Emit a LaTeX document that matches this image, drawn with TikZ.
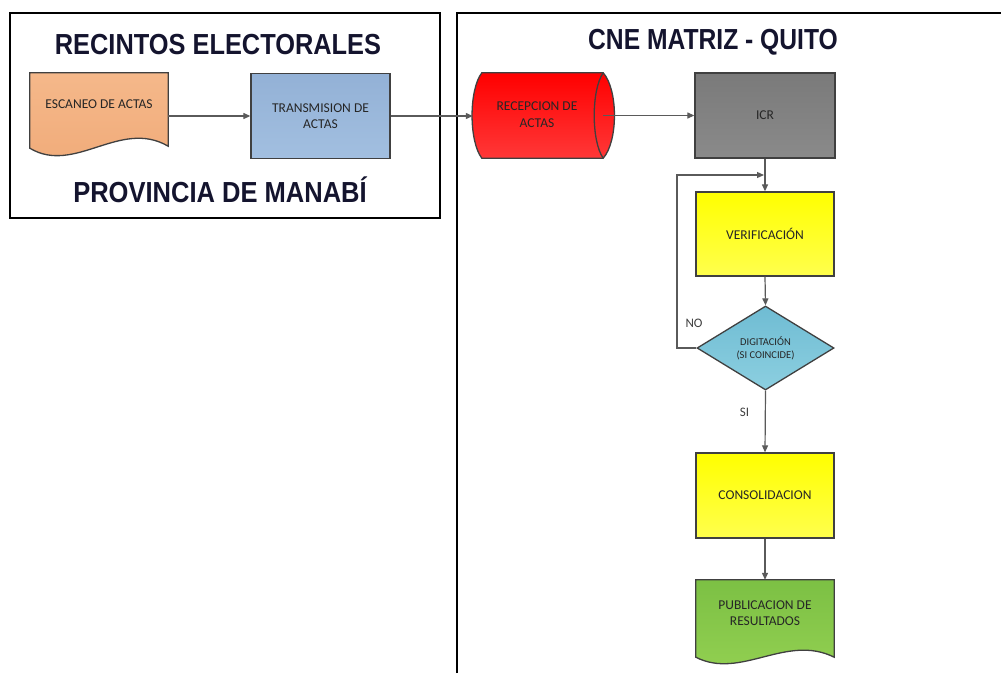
\documentclass[tikz,border=0pt]{standalone}
\usepackage{fontspec}
\setmainfont{Carlito}
\newfontfamily\titlefont{Liberation Sans}
\usetikzlibrary{shapes.geometric,arrows.meta}
\definecolor{titleclr}{HTML}{14142E}
\definecolor{txtclr}{HTML}{262626}
\definecolor{lblclr}{HTML}{404040}
\definecolor{edgeclr}{HTML}{404040}
\definecolor{lineclr}{HTML}{5A5A5A}
\definecolor{escT}{HTML}{F5B88A}
\definecolor{escB}{HTML}{F0AA78}
\definecolor{bluT}{HTML}{93B1D6}
\definecolor{bluB}{HTML}{A2BFE0}
\definecolor{redT}{HTML}{FF0000}
\definecolor{redB}{HTML}{FF3838}
\definecolor{gryT}{HTML}{7A7A7A}
\definecolor{gryB}{HTML}{8A8A8A}
\definecolor{yelT}{HTML}{FFFF00}
\definecolor{yelB}{HTML}{FFFF4D}
\definecolor{diaT}{HTML}{6FBCD3}
\definecolor{diaB}{HTML}{8CCFE0}
\definecolor{grnT}{HTML}{7CC044}
\definecolor{grnB}{HTML}{94D152}
\begin{document}
\begin{tikzpicture}[x=1pt,y=-1pt,
  frame/.style={draw=black,line width=2pt},
  title/.style={font=\titlefont\bfseries\fontsize{29}{33}\selectfont,text=titleclr,inner sep=0pt,anchor=base},
  boxtxt/.style={font=\fontsize{13.5}{16.5}\selectfont,text=txtclr,align=center,inner sep=0pt},
  proc/.style={boxtxt,draw=edgeclr,line width=1.3pt,minimum width=139pt,minimum height=85pt},
  holder/.style={inner sep=0pt,minimum width=138pt,minimum height=85pt},
  shape edge/.style={draw=edgeclr,line width=1.3pt},
  conn/.style={draw=lineclr,line width=1.2pt,-{Triangle[length=7pt,width=6pt]}},
  lbl/.style={font=\fontsize{13}{15}\selectfont,text=lblclr,inner sep=0pt}
]
\useasboundingbox (0,0) rectangle (1001,673);
\fill[white] (0,0) rectangle (1001,673);

% frames
\draw[frame] (10,13) rectangle (440,218);
\draw[frame] (457,673) -- (457,13) -- (1001,13);

% titles
\node[title] (t1) at (218,54) {\scalebox{0.875}[1]{RECINTOS ELECTORALES}};
\node[title] (t2) at (220,202) {\scalebox{0.88}[1]{PROVINCIA DE MANABÍ}};
\node[title] (t3) at (713,49) {\scalebox{0.85}[1]{CNE MATRIZ - QUITO}};

% Escaneo (document)
\node[holder] (esc) at (99,115.5) {};
\path[shape edge, top color=escT, bottom color=escB]
  (esc.north west) -- (esc.north east) -- ([yshift=12pt]esc.south east)
  .. controls ([xshift=-48pt,yshift=40pt]esc.south east) and ([xshift=45pt,yshift=-17pt]esc.south west) ..
  ([yshift=10pt]esc.south west) -- cycle;
\node[boxtxt] (esct) at (99,104) {ESCANEO DE ACTAS};

% Transmision
\node[proc, top color=bluT, bottom color=bluB] (trans) at (320.5,116) {TRANSMISION DE\\ACTAS};

% Recepcion (cylinder)
\node[holder, minimum width=141pt] (rec) at (543.5,115.5) {};
\path[shape edge, top color=redT, bottom color=redB]
  ([xshift=9pt]rec.north west) -- ([xshift=-11pt]rec.north east)
  .. controls ([xshift=4pt,yshift=-17pt]rec.north east) and ([xshift=4pt,yshift=17pt]rec.south east) ..
  ([xshift=-11pt]rec.south east) -- ([xshift=9pt]rec.south west)
  .. controls ([xshift=-4pt,yshift=17pt]rec.south west) and ([xshift=-4pt,yshift=-17pt]rec.north west) ..
  ([xshift=9pt]rec.north west) -- cycle;
\draw[shape edge] ([xshift=-11pt]rec.north east)
  .. controls ([xshift=-23pt,yshift=-17pt]rec.north east) and ([xshift=-23pt,yshift=17pt]rec.south east) ..
  ([xshift=-11pt]rec.south east);
\node[boxtxt] (rect) at (537,114.5) {RECEPCION DE\\ACTAS};

% ICR
\node[proc, minimum width=140pt, top color=gryT, bottom color=gryB] (icr) at (765,115.5) {ICR};

% Verificacion
\node[proc, minimum width=138pt, minimum height=84pt, top color=yelT, bottom color=yelB] (ver) at (765,234) {VERIFICACIÓN};

% Digitacion (decision)
\node[diamond, draw=edgeclr, line width=1.3pt, top color=diaT, bottom color=diaB,
  minimum width=137pt, minimum height=84pt, inner sep=0pt, aspect=1.63,
  font=\fontsize{10.5}{13}\selectfont, text=txtclr, align=center] (dia) at (765.5,348) {DIGITACIÓN\\(SI COINCIDE)};

% Consolidacion
\node[proc, minimum width=138pt, top color=yelT, bottom color=yelB] (cons) at (765,495.5) {CONSOLIDACION};

% Publicacion (document)
\node[holder] (pub) at (765,622.5) {};
\path[shape edge, top color=grnT, bottom color=grnB]
  (pub.north west) -- (pub.north east) -- ([yshift=8pt]pub.south east)
  .. controls ([xshift=-48pt,yshift=32pt]pub.south east) and ([xshift=45pt,yshift=-15pt]pub.south west) ..
  ([yshift=8pt]pub.south west) -- cycle;
\node[boxtxt] (pubt) at (765,613) {PUBLICACION DE\\RESULTADOS};

% connectors
\draw[conn] (esc.east |- trans.west) -- (trans.west);
\draw[conn] (trans.east) -- (trans.east -| rec.west);
\draw[conn] ([xshift=-11pt]rec.east) -- (icr.west);
\draw[conn] (icr.south) -- (ver.north);
\coordinate (lp) at (677,175);
\coordinate (lpe) at (764,175);
\draw[conn] (dia.west) -| (lp) -- (lpe);
\draw[conn] (ver.south) -- (dia.north);
\draw[conn] (dia.south) -- (cons.north);
\draw[conn] (cons.south) -- (pub.north);

% labels
\node[lbl] (no) at (694,323) {NO};
\node[lbl] (si) at (744.5,412) {SI};
\end{tikzpicture}
\end{document}
